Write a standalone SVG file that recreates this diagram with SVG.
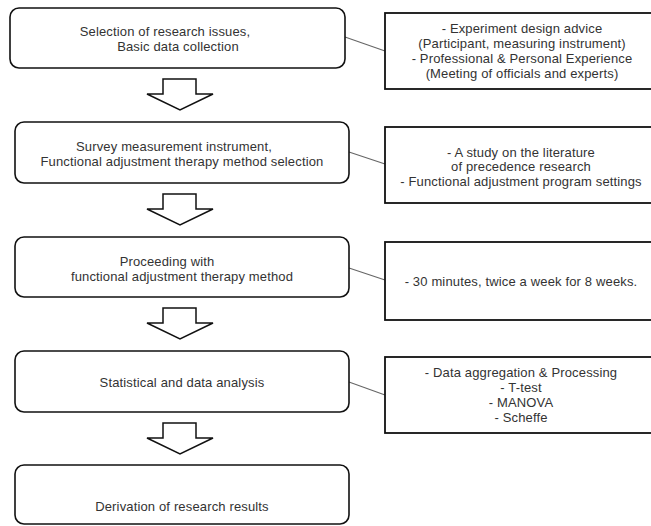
<svg xmlns="http://www.w3.org/2000/svg" width="651" height="526" viewBox="0 0 651 526">
<style>
.step{fill:#fff;stroke:#111;stroke-width:1.6}
.note{fill:#fff;stroke:#111;stroke-width:1.8}
.arrow{fill:#fff;stroke:#111;stroke-width:1.5;stroke-linejoin:miter}
.link{stroke:#666;stroke-width:1.1;fill:none}
text{font-family:"Liberation Sans",Arial,sans-serif;font-size:13px;letter-spacing:0.15px;fill:#333;text-anchor:middle}
</style>
<defs>
<path id="blk" d="M0,0 h33 v15 h17 l-33,16 l-33,-16 h16 z"/>
</defs>
<rect width="651" height="526" fill="#fff"/>
<g id="connectors">
<line class="link" x1="345" y1="37" x2="385" y2="51"/>
<line class="link" x1="349" y1="152" x2="385" y2="164"/>
<line class="link" x1="349" y1="268" x2="385" y2="280"/>
<line class="link" x1="349" y1="382" x2="385" y2="395"/>
<use href="#blk" class="arrow" x="163" y="79"/>
<use href="#blk" class="arrow" x="163" y="194"/>
<use href="#blk" class="arrow" x="163" y="308"/>
<use href="#blk" class="arrow" x="163" y="423"/>
</g>
<g id="step1">
<rect class="step" x="10" y="8" width="335" height="60" rx="9"/>
<text x="165" y="36">Selection of research issues,</text>
<text x="178" y="51">Basic data collection</text>
</g>
<g id="step2">
<rect class="step" x="15" y="122" width="334" height="61" rx="9"/>
<text x="174" y="151">Survey measurement instrument,</text>
<text x="182" y="166">Functional adjustment therapy method selection</text>
</g>
<g id="step3">
<rect class="step" x="15" y="237" width="334" height="60" rx="9"/>
<text x="167" y="266">Proceeding with</text>
<text x="182" y="281">functional adjustment therapy method</text>
</g>
<g id="step4">
<rect class="step" x="15" y="351" width="334" height="61" rx="9"/>
<text x="182" y="387">Statistical and data analysis</text>
</g>
<g id="step5">
<rect class="step" x="15" y="465" width="334" height="59" rx="9"/>
<text x="182" y="511">Derivation of research results</text>
</g>
<g id="note1">
<rect class="note" x="385" y="13" width="275" height="76"/>
<text x="522" y="33">- Experiment design advice</text>
<text x="522" y="48">(Participant, measuring instrument)</text>
<text x="522" y="63">- Professional &amp; Personal Experience</text>
<text x="522" y="78">(Meeting of officials and experts)</text>
</g>
<g id="note2">
<rect class="note" x="385" y="127" width="275" height="76"/>
<text x="521" y="157">- A study on the literature</text>
<text x="521" y="171">of precedence research</text>
<text x="521" y="186">- Functional adjustment program settings</text>
</g>
<g id="note3">
<rect class="note" x="385" y="242" width="275" height="78"/>
<text x="521" y="286">- 30 minutes, twice a week for 8 weeks.</text>
</g>
<g id="note4">
<rect class="note" x="385" y="357" width="275" height="76"/>
<text x="521" y="377">- Data aggregation &amp; Processing</text>
<text x="521" y="392">- T-test</text>
<text x="521" y="407">- MANOVA</text>
<text x="521" y="422">- Scheffe</text>
</g>
</svg>
